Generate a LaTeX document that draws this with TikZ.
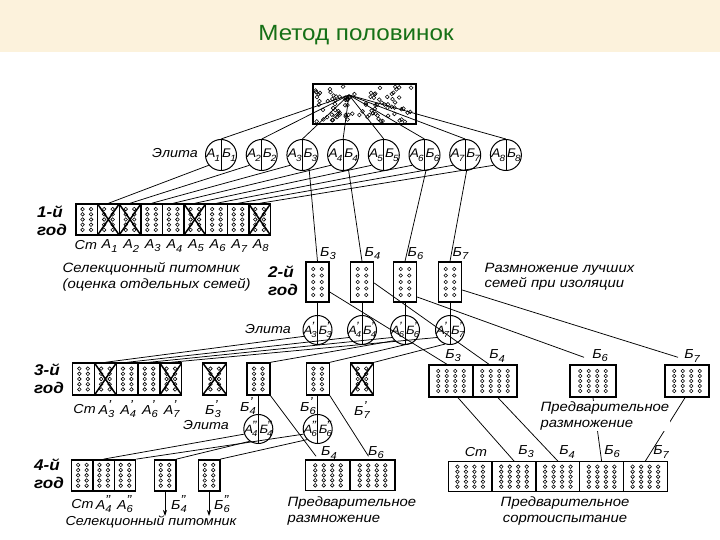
\documentclass[tikz,border=0pt]{standalone}
\usepackage{fontspec}
\usepackage{graphicx}
\setmainfont{Liberation Sans}[FakeStretch=1.1]
\usetikzlibrary{arrows.meta}

\definecolor{titlegreen}{RGB}{22,112,22}
\definecolor{paper}{RGB}{252,242,220}

% letter with upper mark and index
\newcommand{\ix}[3]{#1\rlap{\raisebox{0.7ex}{#2}}\raisebox{-0.45ex}{\scalebox{0.78}{#3}}}
% tighter form used inside the elite circles
\newcommand{\cix}[3]{#1\kern-0.9pt\rlap{\raisebox{0.6ex}{#2}}\raisebox{-0.6ex}{\scalebox{0.72}{#3}}}
% the two halves of an elite plant
\newcommand{\pair}[2]{\makebox[0pt][r]{\cix{A}{#1}{#2}\hspace{0.8pt}}\makebox[0pt][l]{\hspace{1.2pt}\cix{Б}{#1}{#2}}}
% seeds sown in a plot: columns, rows, row step
\newcommand{\seeds}[3]{%
  \foreach \cc in {1,...,#1}{%
    \foreach \rr in {1,...,#2}{%
      \draw[line width=0.6pt] ([xshift={(\cc-(#1+1)/2)*8.5pt}, yshift={(\rr-(#2+1)/2)*#3}]path picture bounding box.center) circle (1.8pt);}}}

\begin{document}
\begin{tikzpicture}[x=1pt, y=-1pt,
  link/.style={line width=0.75pt},
  lab/.style={font=\fontsize{13}{14}\selectfont\itshape, inner sep=0.5pt},
  note/.style={font=\fontsize{13.5}{15.5}\selectfont\itshape, align=left, inner sep=0.5pt},
  yr/.style={font=\fontsize{15.5}{18}\selectfont\bfseries\itshape, align=left, inner sep=0pt},
  elite/.style={circle, draw, line width=1pt, minimum size=31pt, inner sep=0pt,
    font=\fontsize{12.5}{14}\selectfont\itshape,
    path picture={\draw[line width=0.7pt] (path picture bounding box.north) -- (path picture bounding box.south);}},
  plotbox/.style={draw, line width=1.4pt, inner sep=0pt, minimum width=21.6pt, minimum height=31pt,
    path picture={\seeds{2}{5}{5.2pt}}},
  crossbox/.style={plotbox, path picture={\seeds{2}{5}{5.2pt}
    \draw[line width=1.5pt] (path picture bounding box.north west) -- (path picture bounding box.south east)
      (path picture bounding box.north east) -- (path picture bounding box.south west);}},
  tallbox/.style={plotbox, minimum width=23pt, minimum height=40pt, path picture={\seeds{2}{5}{6.5pt}}},
  widebox/.style={plotbox, minimum width=44pt, minimum height=31pt, path picture={\seeds{4}{5}{5pt}}},
  popbox/.style={draw, line width=1.6pt, inner sep=0pt, minimum width=103pt, minimum height=40pt,
    path picture={\pgfmathsetseed{11}
      \foreach \k in {1,...,95}{\pgfmathsetmacro\px{rnd*98-49}\pgfmathsetmacro\py{rnd*36-18}
        \draw[line width=0.55pt] ([xshift=\px pt, yshift=\py pt]path picture bounding box.center) circle (1.9pt);}}}
]
\fill[white] (0,0) rectangle (720,540);
\fill[paper] (0,0) rectangle (720,52);
\useasboundingbox (0,0) rectangle (720,540);
\node[font=\fontsize{22}{26}\selectfont, text=titlegreen] (title) at (356,35) {Метод половинок};

% starting population and 1st year elite
\node[popbox] (pop) at (364.5,104) {};
\coordinate (hub) at (349,95);
\node[lab] (el1) at (175,153) {Элита};
\foreach \i in {1,...,8}
  \node[elite] (e\i) at ({180.3+40.7*\i},155) {\pair{}{\i}};

% 1st year
\node[yr] (yr1) at (52,221) {1-й\\год};
\foreach \i/\s in {0/plotbox,1/crossbox,2/crossbox,3/plotbox,4/plotbox,5/crossbox,6/plotbox,7/plotbox,8/crossbox}
  \node[\s] (ya\i) at ({86.8+21.6*\i},219.5) {};
\node[lab] (la0) at (85.8,245) {Ст};
\foreach \i in {1,...,8}
  \node[lab] (la\i) at ({88+21.6*\i},246) {\ix{A}{}{\i}};

% 2nd year
\node[yr] (yr2) at (283,281) {2-й\\год};
\node[lab] (el2) at (268,329) {Элита};
\foreach \i/\bx in {3/317.5,4/362,6/405,7/450}{
  \node[tallbox] (b\i) at (\bx,282) {};
  \node[lab, anchor=south west] (lb\i) at ([xshift=2pt,yshift=1pt]b\i.north) {\ix{Б}{}{\i}};
  \node[elite, minimum size=29pt, font=\fontsize{12}{13}\selectfont\itshape] (f\i) at (\bx,330) {\pair{'}{\i}};
}

% 3rd year, nursery
\node[yr] (yr3) at (49,379) {3-й\\год};
\foreach \i/\s/\lbl in {0/plotbox/Ст, 1/crossbox/{\ix{A}{'}{3}}, 2/plotbox/{\ix{A}{'}{4}}, 3/plotbox/{\ix{A}{'}{6}}, 4/crossbox/{\ix{A}{'}{7}}}{
  \node[\s, minimum width=21.8pt, minimum height=32pt] (q\i) at ({83.6+21.8*\i},379) {};
  \node[lab] (lq\i) at ({84.6+21.8*\i},409) {\lbl};
}
\node[crossbox, minimum width=24pt, minimum height=32pt] (p3) at (214.7,379) {};
\node[plotbox, minimum width=23pt, minimum height=32pt] (p4) at (258.3,379) {};
\node[plotbox, minimum width=23pt, minimum height=32pt] (p6) at (317.7,379) {};
\node[crossbox, minimum width=23pt, minimum height=32pt] (p7) at (362,379) {};
\node[lab] (lp3) at (213,409) {\ix{Б}{'}{3}};
\node[lab] (lp4) at (248,406) {\ix{Б}{'}{4}};
\node[lab] (lp6) at (308,406) {\ix{Б}{'}{6}};
\node[lab] (lp7) at (362,410) {\ix{Б}{'}{7}};

% 3rd year, propagation
\node[widebox, minimum height=32pt] (c3) at (451,381) {};
\node[widebox, minimum height=32pt] (c4) at (495,381) {};
\node[widebox, minimum width=46pt, minimum height=32pt] (c6) at (593,381) {};
\node[widebox, minimum height=32pt] (c7) at (687,381) {};
\node[lab] (lc3) at (453,356) {\ix{Б}{}{3}};
\node[lab] (lc4) at (497,356) {\ix{Б}{}{4}};
\node[lab] (lc6) at (600,356) {\ix{Б}{}{6}};
\node[lab] (lc7) at (692,356) {\ix{Б}{}{7}};

% 3rd year elite
\node[lab] (el3) at (206,425) {Элита};
\node[elite, minimum size=29pt, font=\fontsize{12}{13}\selectfont\itshape] (g4) at (258.3,429) {\pair{''}{4}};
\node[elite, minimum size=29pt, font=\fontsize{12}{13}\selectfont\itshape] (g6) at (317.7,429) {\pair{''}{6}};

% 4th year, nursery
\node[yr] (yr4) at (49,474) {4-й\\год};
\foreach \i/\lbl in {0/Ст, 1/{\ix{A}{''}{4}}, 2/{\ix{A}{''}{6}}}{
  \node[plotbox, minimum width=21.3pt] (s\i) at ({82.4+21.3*\i},475.3) {};
  \node[lab] (ls\i) at ({82.4+21.3*\i},504) {\lbl};
}
\node[plotbox] (r4) at (165,475.3) {};
\node[plotbox] (r6) at (209,475.3) {};
\coordinate (r4end) at (165,516);
\coordinate (r6end) at (209,516);
\node[lab] (lr4) at (179,504) {\ix{Б}{''}{4}};
\node[lab] (lr6) at (222,504) {\ix{Б}{''}{6}};

% 4th year, propagation and trial
\node[widebox, minimum width=44.7pt, minimum height=30.7pt] (t4) at (328,475.3) {};
\node[widebox, minimum width=45pt, minimum height=30.7pt] (t6) at (372.5,475.3) {};
\node[lab] (lt4) at (329,453) {\ix{Б}{}{4}};
\node[lab] (lt6) at (376,453) {\ix{Б}{}{6}};
\foreach \i in {0,...,4}
  \node[widebox, minimum width=43.8pt, minimum height=30pt] (d\i) at ({470.2+43.8*\i},476.7) {};
\node[lab] (ld0) at (476,452) {Ст};
\node[lab] (ld1) at (526,452) {\ix{Б}{}{3}};
\node[lab] (ld2) at (567,452) {\ix{Б}{}{4}};
\node[lab] (ld3) at (612,452) {\ix{Б}{}{6}};
\node[lab] (ld4) at (661,452) {\ix{Б}{}{7}};

% connections
\foreach \i in {1,...,8}
  \draw[link] (hub) -- (e\i.north);
\foreach \i in {1,...,8}
  \draw[link] (e\i.220) -- (ya\i.north);
\foreach \i/\a in {3/-65,4/-70,6/-85,7/-85}
  \draw[link] (e\i.\a) -- (b\i.north);
\foreach \i in {3,4,6,7}
  \draw[link] (b\i.south) -- (f\i.south);
\draw[link] ([yshift=-10pt]b3.east) -- ([xshift=-4pt]c3.north);
\draw[link] ([yshift=-1pt]b4.east) -- ([xshift=-6pt]c4.north);
\draw[link] ([yshift=-15pt]b6.east) -- ([xshift=-9pt,yshift=7pt]c6.north);
\draw[link] ([yshift=-8pt]b7.east) -- ([xshift=-9pt,yshift=7pt]c7.north);
\draw[link] (f3.205) -- (q1.north);
\draw[link] (f4.210) -- (q2.north);
\draw[link] (f6.210) -- (q3.north);
\draw[link] (f7.210) -- (q4.north);
\draw[link] (f6.225) -- (p4.north east);
\draw[link] (f6.-60) -- (p6.north east);
\draw[link] (f7.250) -- (p7.north east);
\draw[link] (p4.south) -- (g4.south);
\draw[link] (p6.south) -- (g6.south);
\draw[link] (p4.south east) -- ([xshift=-12pt,yshift=3pt]t4.north);
\draw[link] (p6.south east) -- ([xshift=-4pt,yshift=3pt]t6.north);
\draw[link] (g4.200) -- (s1.north);
\draw[link] (g4.235) -- (r4.north east);
\draw[link] (g6.200) -- (s2.north east);
\draw[link] (g6.225) -- (r6.north east);
\draw[link, -{Stealth[length=6pt,width=4pt]}] (r4.south) -- (r4end);
\draw[link, -{Stealth[length=6pt,width=4pt]}] (r6.south) -- (r6end);
\draw[link] ([xshift=7pt]c3.south) -- (d1.north);
\draw[link] ([xshift=3pt]c4.south) -- (d2.north);
\draw[link] (c6.south) -- (d3.north);
\draw[link] ([xshift=-2pt]c7.south) -- (d4.north);

% captions
\node[note, anchor=west] (nurs1) at (62,277) {Селекционный питомник\\(оценка отдельных семей)};
\node[note, anchor=west] (prop) at (484,277) {Размножение лучших\\семей при изоляции};
\node[note, anchor=west, fill=white] (pre1) at (540,416) {Предварительное\\размножение};
\node[note, anchor=west] (pre2) at (287,511) {Предварительное\\размножение};
\node[note, align=center] (trial) at (565,511) {Предварительное\\сортоиспытание};
\node[lab] (nurs2) at (151,522) {Селекционный питомник};
\end{tikzpicture}
\end{document}
